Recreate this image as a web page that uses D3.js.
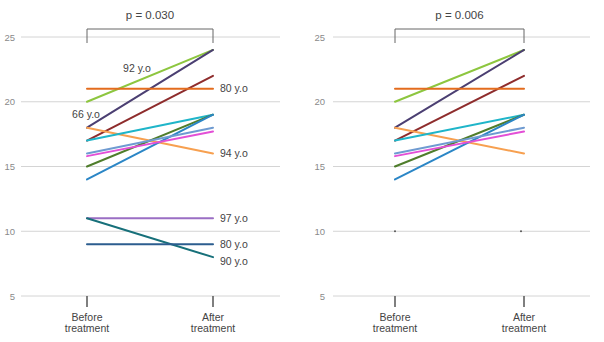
<!DOCTYPE html>
<html>
<head>
<meta charset="utf-8">
<script src="https://cdn.jsdelivr.net/npm/d3@7"></script>
<style>
  body { margin: 0; background: #fff; }
  svg { display: block; font-family: "Liberation Sans", Arial, sans-serif; }
</style>
</head>
<body>
<div id="chart"></div>
<script>
// values
var conditions = ["Before treatment", "After treatment"];
var yTicks = [5, 10, 15, 20, 25];
var beforeVals = [20, 18, 17, 21, 18, 17, 15, 14, 16, 15.8, 11, 11, 9];
var afterVals  = [24, 24, 22, 21, 16, 19, 19, 19, 18, 17.7, 11, 8, 9];
var lineColors = ["#8dc63f", "#4b3f72", "#8e2c2c", "#e36c1e", "#f7a050", "#1fb5c9",
                  "#4f7d2b", "#2b86c6", "#6f9bd1", "#e34fd6", "#9a6ec4", "#17707a", "#2c5d8f"];
var pValues = ["p = 0.030", "p = 0.006"];
// right panel only keeps the first 10 patients
var rightCount = 10;
var rightDots = [10];
// age labels on the after side: [patient index, text]
var afterLabels = [[3, "80 y.o"], [4, "94 y.o"], [10, "97 y.o"], [12, "80 y.o"], [11, "90 y.o"]];

var W = 604, H = 342;
var svg = d3.select("#chart").append("svg")
  .attr("width", W).attr("height", H);

function drawPanel(opt) {
  var g = svg.append("g");

  var y = d3.scaleLinear().domain([5, 25]).range([296, 37]);
  var x = d3.scalePoint().domain(conditions).range(opt.xRange);

  // grid
  g.selectAll(".grid").data(yTicks).enter().append("line")
    .attr("x1", opt.gridX[0]).attr("x2", opt.gridX[1])
    .attr("y1", function(d) { return y(d); })
    .attr("y2", function(d) { return y(d); })
    .attr("stroke", "#d4d4d4").attr("stroke-width", 1);

  g.selectAll(".ytick").data(yTicks).enter().append("text")
    .attr("x", opt.labelX)
    .attr("y", function(d) { return y(d) + 3.5; })
    .attr("text-anchor", "end")
    .attr("font-size", 9.5)
    .attr("fill", "#8a8a8a")
    .text(function(d) { return d; });

  // bottom ticks + labels
  conditions.forEach(function(c) {
    g.append("line")
      .attr("x1", x(c)).attr("x2", x(c))
      .attr("y1", y(5)).attr("y2", y(5) + 11)
      .attr("stroke", "#555").attr("stroke-width", 1.5);
    var words = c.split(" ");
    var t = g.append("text")
      .attr("text-anchor", "middle")
      .attr("font-size", 10.5)
      .attr("fill", "#444");
    words.forEach(function(w, i) {
      t.append("tspan").attr("x", x(c)).attr("y", 321 + i * 10.5).text(w);
    });
  });

  // bracket + p value
  var x0 = x(conditions[0]), x1 = x(conditions[1]);
  g.append("path")
    .attr("d", "M" + x0 + "," + 43 + "V" + 29 + "H" + x1 + "V" + 43)
    .attr("fill", "none").attr("stroke", "#666").attr("stroke-width", 1);
  g.append("text")
    .attr("x", (x0 + x1) / 2).attr("y", 19)
    .attr("text-anchor", "middle")
    .attr("font-size", 11.5)
    .attr("fill", "#444")
    .text(opt.p);

  // patient lines
  var idx = d3.range(opt.count);
  g.selectAll(".pl").data(idx).enter().append("line")
    .attr("x1", x0).attr("x2", x1)
    .attr("y1", function(i) { return y(beforeVals[i]); })
    .attr("y2", function(i) { return y(afterVals[i]); })
    .attr("stroke", function(i) { return lineColors[i]; })
    .attr("stroke-width", 2)
    .attr("stroke-linecap", "round");

  return {g: g, x: x, y: y};
}

var left = drawPanel({xRange: [87, 213], gridX: [21, 280], labelX: 15, p: pValues[0], count: beforeVals.length});
var right = drawPanel({xRange: [395, 524], gridX: [333, 590], labelX: 325, p: pValues[1], count: rightCount});

// labels on the left panel
afterLabels.forEach(function(a, k) {
  var off = a[1] == "90 y.o" ? 4 : 0;
  left.g.append("text")
    .attr("x", left.x(conditions[1]) + 7)
    .attr("y", left.y(afterVals[a[0]]) + 3.5 + off)
    .attr("font-size", 10.5)
    .attr("fill", "#444")
    .text(a[1]);
});
left.g.append("text")
  .attr("x", left.x(conditions[0]) - 1)
  .attr("y", left.y(19) + 3.5)
  .attr("text-anchor", "middle")
  .attr("font-size", 10.5).attr("fill", "#444")
  .text("66 y.o");
left.g.append("text")
  .attr("x", left.x(conditions[0]) + 50)
  .attr("y", left.y(22.6) + 3.5)
  .attr("text-anchor", "middle")
  .attr("font-size", 10.5).attr("fill", "#444")
  .text("92 y.o");

// tiny points on the right panel
conditions.forEach(function(c) {
  right.g.selectAll(null).data(rightDots).enter().append("circle")
    .attr("cx", right.x(c) - (c == conditions[1] ? 3 : 0))
    .attr("cy", function(d) { return right.y(d); })
    .attr("r", 1)
    .attr("fill", "#555");
});
</script>
</body>
</html>
